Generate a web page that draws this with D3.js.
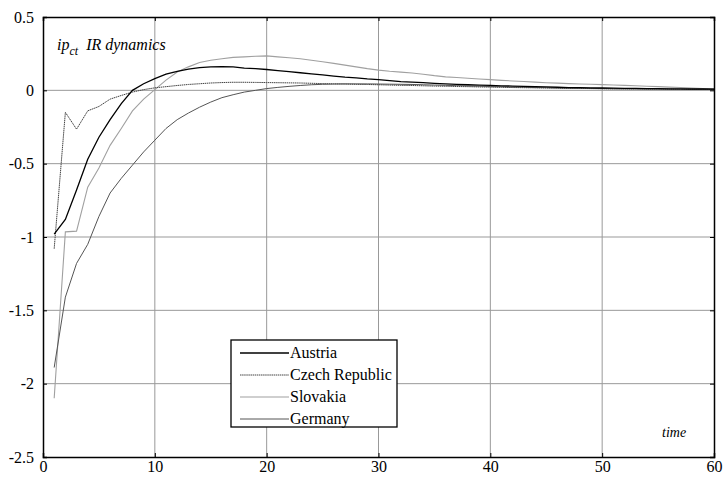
<!DOCTYPE html>
<html>
<head>
    <meta charset="utf-8">
    <script src="https://cdnjs.cloudflare.com/ajax/libs/d3/7.8.5/d3.min.js"></script>
    <style>
        body { margin: 0; background: #fff; }
    </style>
</head>
<body>
    <div id="chart"></div>
    <script>
        // impulse responses, t = 1..60
        let austria = [-0.98, -0.88, -0.68, -0.47, -0.32, -0.20, -0.09, 0.0, 0.045, 0.08,
            0.11, 0.13, 0.145, 0.155, 0.16, 0.162, 0.16, 0.152, 0.148, 0.142,
            0.135, 0.128, 0.12, 0.112, 0.105, 0.097, 0.09, 0.085, 0.078, 0.073,
            0.066, 0.06, 0.056, 0.052, 0.048, 0.044, 0.041, 0.038, 0.036, 0.034,
            0.031, 0.029, 0.027, 0.025, 0.023, 0.021, 0.019, 0.018, 0.017, 0.016,
            0.015, 0.014, 0.013, 0.012, 0.011, 0.010, 0.010, 0.009, 0.009, 0.008]
        let czech = [-1.08, -0.15, -0.265, -0.14, -0.11, -0.06, -0.035, -0.012, 0.005, 0.017,
            0.025, 0.033, 0.04, 0.045, 0.05, 0.053, 0.055, 0.055, 0.054, 0.053,
            0.052, 0.051, 0.05, 0.048, 0.046, 0.044, 0.043, 0.041, 0.04, 0.038,
            0.036, 0.034, 0.033, 0.031, 0.029, 0.028, 0.026, 0.025, 0.023, 0.022,
            0.021, 0.019, 0.018, 0.017, 0.016, 0.015, 0.014, 0.013, 0.012, 0.011,
            0.010, 0.010, 0.009, 0.009, 0.008, 0.008, 0.007, 0.007, 0.006, 0.006]
        let slovakia = [-2.1, -0.965, -0.96, -0.66, -0.53, -0.375, -0.26, -0.14, -0.06, 0.005,
            0.07, 0.125, 0.16, 0.19, 0.205, 0.215, 0.225, 0.228, 0.232, 0.235,
            0.228, 0.222, 0.215, 0.205, 0.195, 0.184, 0.172, 0.16, 0.148, 0.138,
            0.13, 0.124, 0.118, 0.11, 0.10, 0.092, 0.087, 0.082, 0.077, 0.073,
            0.068, 0.064, 0.06, 0.056, 0.052, 0.049, 0.046, 0.043, 0.041, 0.039,
            0.036, 0.034, 0.031, 0.028, 0.025, 0.022, 0.019, 0.016, 0.013, 0.011]
        let germany = [-1.89, -1.41, -1.18, -1.05, -0.86, -0.70, -0.60, -0.51, -0.42, -0.34,
            -0.26, -0.20, -0.155, -0.115, -0.08, -0.05, -0.03, -0.012, 0.0, 0.012,
            0.02, 0.027, 0.033, 0.038, 0.041, 0.043, 0.044, 0.044, 0.044, 0.043,
            0.042, 0.041, 0.04, 0.038, 0.036, 0.034, 0.032, 0.03, 0.028, 0.026,
            0.024, 0.022, 0.021, 0.019, 0.018, 0.016, 0.015, 0.014, 0.013, 0.012,
            0.011, 0.010, 0.010, 0.009, 0.009, 0.008, 0.008, 0.007, 0.007, 0.007]

        let seriesNames = ["Austria", "Czech Republic", "Slovakia", "Germany"]
        let xTicks = [0, 10, 20, 30, 40, 50, 60]
        let yTicks = [0.5, 0, -0.5, -1, -1.5, -2, -2.5]

        const W = 724, H = 477
        const MARGIN = { top: 17, right: 10, bottom: 20, left: 43 }
        let chartW = W - MARGIN.left - MARGIN.right
        let chartH = H - MARGIN.top - MARGIN.bottom
        const SERIF = "'Liberation Serif', 'Times New Roman', serif"

        let svg = d3.select("#chart").append("svg").attr("width", W).attr("height", H)
        let g = svg.append("g").attr("transform", `translate(${MARGIN.left},${MARGIN.top})`)

        let x = d3.scaleLinear().domain([0, 60]).range([0, chartW])
        let y = d3.scaleLinear().domain([-2.5, 0.5]).range([chartH, 0])

        // grid
        g.selectAll(".vgrid").data(xTicks.slice(1, -1)).enter().append("line")
            .attr("x1", d => x(d)).attr("x2", d => x(d)).attr("y1", 0).attr("y2", chartH)
            .attr("stroke", "#999").attr("stroke-width", 1)
        g.selectAll(".hgrid").data(yTicks.slice(1, -1)).enter().append("line")
            .attr("y1", d => y(d)).attr("y2", d => y(d)).attr("x1", 0).attr("x2", chartW)
            .attr("stroke", "#999").attr("stroke-width", 1)

        let styles = [
            { color: "#000", width: 1.3, dash: null },
            { color: "#444", width: 1, dash: "1.5,0.6" },
            { color: "#a0a0a0", width: 1.1, dash: null },
            { color: "#555", width: 1, dash: null }
        ]
        let allSeries = [austria, czech, slovakia, germany]

        let line = d3.line().x((d, i) => x(i + 1)).y(d => y(d))

        // light ones first so black sits on top
        let order = [2, 3, 1, 0]
        order.forEach(function (k) {
            g.append("path").datum(allSeries[k])
                .attr("d", line).attr("fill", "none")
                .attr("stroke", styles[k].color).attr("stroke-width", styles[k].width)
                .attr("stroke-dasharray", styles[k].dash)
        })

        // axes with inward ticks
        let xAxis = d3.axisBottom(x).tickValues(xTicks).tickSize(-4).tickPadding(4)
        let yAxis = d3.axisLeft(y).tickValues(yTicks).tickSize(-4).tickPadding(9)
            .tickFormat(d => String(d))

        let gx = g.append("g").attr("transform", `translate(0,${chartH})`).call(xAxis)
        let gy = g.append("g").call(yAxis)
        g.append("g").call(d3.axisTop(x).tickValues(xTicks).tickSize(-4).tickFormat(""))
        g.append("g").attr("transform", `translate(${chartW},0)`)
            .call(d3.axisRight(y).tickValues(yTicks).tickSize(-4).tickFormat(""))
        g.selectAll(".domain").attr("stroke", "#000").attr("stroke-width", 1.5)
        g.selectAll(".tick line").attr("stroke", "#000")
        g.selectAll(".tick text").attr("fill", "#000")
            .style("font-family", SERIF).style("font-size", "16px")

        // title
        let title = g.append("text").attr("x", 14).attr("y", 33)
            .style("font-family", SERIF).style("font-style", "italic").style("font-size", "16px")
        title.append("tspan").text("ip")
        title.append("tspan").attr("dy", 5).style("font-size", "12px").text("ct")
        title.append("tspan").attr("dx", 8).attr("dy", -5).text("IR dynamics")

        g.append("text").attr("x", chartW - 52).attr("y", chartH - 20)
            .style("font-family", SERIF).style("font-style", "italic").style("font-size", "14px").text("time")

        // legend
        let lg = svg.append("g").attr("transform", "translate(231,340)")
        lg.append("rect").attr("width", 166).attr("height", 87)
            .attr("fill", "#fff").attr("stroke", "#000").attr("stroke-width", 1.3)
        seriesNames.forEach(function (name, i) {
            let yy = 13 + i * 22
            lg.append("line").attr("x1", 9).attr("x2", 58).attr("y1", yy).attr("y2", yy)
                .attr("stroke", styles[i].color).attr("stroke-width", styles[i].width)
                .attr("stroke-dasharray", styles[i].dash)
            lg.append("text").attr("x", 59).attr("y", yy + 5)
                .style("font-family", SERIF).style("font-size", "16px").text(name)
        })
    </script>
</body>
</html>
